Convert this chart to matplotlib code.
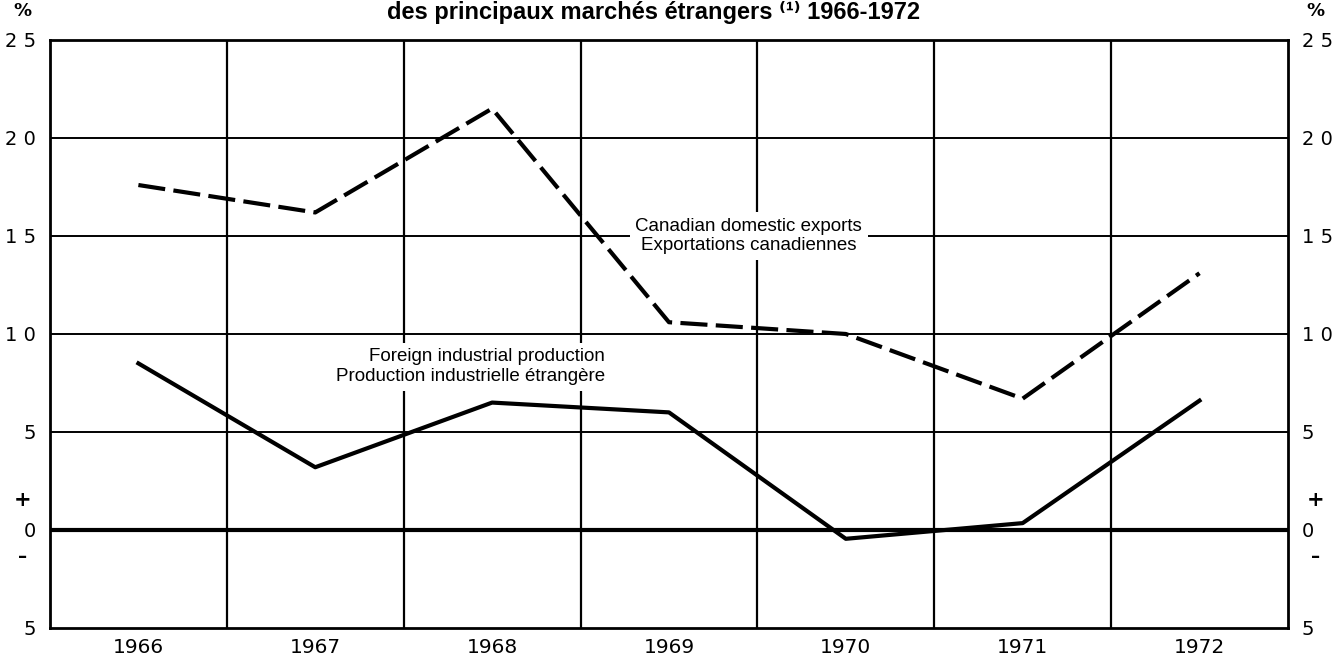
import matplotlib
matplotlib.use('Agg')
import matplotlib.pyplot as plt

years = [1966, 1967, 1968, 1969, 1970, 1971, 1972]
exports = [17.6, 16.2, 21.5, 10.6, 10.0, 6.7, 13.1]
foreign_prod = [8.5, 3.2, 6.5, 6.0, -0.45, 0.35, 6.6]

y_ticks = [25, 20, 15, 10, 5, 0, -5]
y_labels = ['2 5', '2 0', '1 5', '1 0', '5', '0', '5']

plt.rcParams['font.family'] = ['DejaVu Sans']

fig = plt.figure(figsize=(13.43, 6.62), dpi=100)
ax = fig.add_axes([0.0372, 0.0514, 0.9218, 0.8882])

ax.set_xlim(1965.5, 1972.5)
ax.set_ylim(-5, 25)

# grid: horizontal at ticks, vertical between years
for v in [20, 15, 10, 5]:
    ax.axhline(v, color='black', lw=1.4, zorder=1)
ax.axhline(0, color='black', lw=3, zorder=1)
for yr in years[:-1]:
    ax.axvline(yr + 0.5, color='black', lw=1.6, zorder=1)

for s in ax.spines.values():
    s.set_linewidth(2)

ax.plot(years, exports, color='black', lw=3, dashes=(6.5, 2), zorder=3,
        solid_joinstyle='round', dash_capstyle='butt')
ax.plot(years, foreign_prod, color='black', lw=3, zorder=3, solid_joinstyle='round')

ax.tick_params(length=0)
ax.set_xticks(years)
ax.set_xticklabels([str(y) for y in years], fontsize=14.5)
ax.tick_params(axis='x', pad=7)
ax.set_yticks(y_ticks)
ax.set_yticklabels(y_labels, fontsize=14)
ax.tick_params(axis='y', pad=10)

ax2 = ax.twinx()
ax2.set_ylim(-5, 25)
ax2.set_yticks(y_ticks)
ax2.set_yticklabels(y_labels, fontsize=14)
ax2.tick_params(length=0, pad=10)
for s in ax2.spines.values():
    s.set_visible(False)

# % signs and +/- around zero
tr_l = ax.get_yaxis_transform()
for xa in [-0.022, 1.022]:
    ax.text(xa, 26.0, '%', transform=tr_l, ha='center', va='bottom', fontsize=13,
            fontweight='bold')
    ax.text(xa, 1.0, '+', transform=tr_l, ha='center', va='bottom', fontsize=15,
            fontweight='bold')
    ax.text(xa, -0.9, '\u2013', transform=tr_l, ha='center', va='top', fontsize=13,
            fontweight='bold')

ax.text(1969.45, 15.0, 'Canadian domestic exports\nExportations canadiennes',
        ha='center', va='center', fontsize=13.5, family='Liberation Sans',
        linespacing=1.2, zorder=2,
        bbox=dict(facecolor='white', edgecolor='none', pad=4))
ax.text(1968.64, 8.33, 'Foreign industrial production\nProduction industrielle étrangère',
        ha='right', va='center', fontsize=13.5, family='Liberation Sans',
        multialignment='right', linespacing=1.2, zorder=2,
        bbox=dict(facecolor='white', edgecolor='none', pad=4))

fig.text(0.487, 0.999, 'des principaux marchés étrangers \u207d\u00b9\u207e 1966-1972',
         ha='center', va='top', fontsize=17, fontweight='bold',
         family=['Liberation Sans', 'DejaVu Sans'])

fig.savefig('out.png', dpi=100)
